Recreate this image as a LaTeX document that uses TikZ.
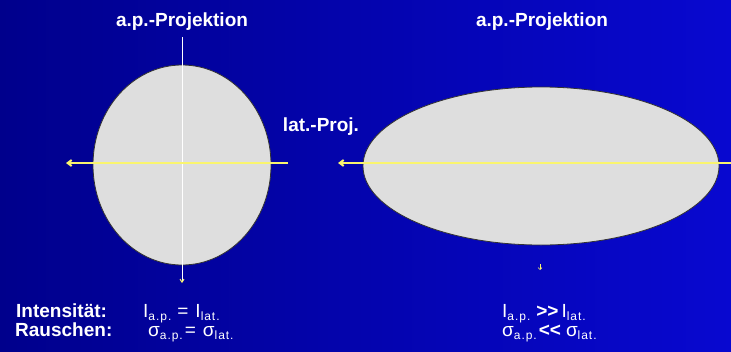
\documentclass[tikz,border=0pt]{standalone}
\usepackage{fontspec}
\setmainfont{Liberation Sans}
\usepackage{xcolor}
\definecolor{bgdark}{RGB}{0,0,140}
\definecolor{bglight}{RGB}{8,8,208}
\definecolor{bodygray}{RGB}{222,222,222}
\definecolor{projyellow}{RGB}{250,245,110}
\usetikzlibrary{arrows.meta, shapes.geometric}

\newcommand{\lowtxt}[1]{\raisebox{-3pt}{\fontsize{12}{12}\selectfont\addfontfeature{LetterSpace=8} #1}}

\begin{document}
\begin{tikzpicture}[x=1pt, y=-1pt,
  title/.style={font=\fontsize{19}{20}\selectfont\bfseries, text=white, inner sep=0pt},
  formula/.style={font=\fontsize{19}{20}\selectfont, text=white, inner sep=0pt, anchor=base west},
  body/.style={ellipse, draw=black!80, fill=bodygray, line width=0.8pt, inner sep=0pt},
  beam/.style={projyellow, line width=2pt, -{Straight Barb[length=4pt, width=6pt]}}]
  % Background
  \useasboundingbox (0,0) rectangle (731,351);
  \shade[left color=bgdark, right color=bglight] (0,0) rectangle (731,351);

  % Round body (left)
  \node[body, minimum width=178, minimum height=200] (roundbody) at (182,165) {};
  \coordinate (vtop) at (182,37);
  \coordinate (vbot) at (182,283);
  \draw[white, line width=1pt, -{Straight Barb[color=projyellow, length=3pt, width=4pt]}] (vtop) -- (vbot);
  \coordinate (lbeamin) at (288,163);
  \coordinate (lbeamout) at (66,163);
  \draw[beam] (lbeamin) -- (lbeamout);
  \node[title] (apleft) at (182,22) {a.p.-Projektion};

  % Flat body (right)
  \node[body, minimum width=356, minimum height=158] (flatbody) at (541,166) {};
  \coordinate (rbeamin) at (731,163);
  \coordinate (rbeamout) at (338,163);
  \draw[beam] (rbeamin) -- (rbeamout);
  \coordinate (rtiptop) at (540,264);
  \coordinate (rtipbot) at (540,270);
  \draw[projyellow, line width=0.6pt, -{Straight Barb[length=2pt, width=4pt]}] (rtiptop) -- (rtipbot);
  \node[title] (apright) at (542,22) {a.p.-Projektion};
  \node[title] (latproj) at (321,127) {lat.-Proj.};

  % Bottom text
  \node[title, anchor=base west] (intlabel) at (16,317) {Intensität:};
  \node[title, anchor=base west] (rauschlabel) at (15,336) {Rauschen:};
  \node[formula] (intleft) at (143,317) {I\lowtxt{a.p.}\hspace{6pt}=\hspace{7pt}I\lowtxt{lat.}};
  \node[formula] (rauschleft) at (148,336) {σ\lowtxt{a.p.}\hspace{2pt}=\hspace{7pt}σ\lowtxt{lat.}};
  \node[formula] (intright) at (502,317) {I\lowtxt{a.p.}\hspace{6pt}\textbf{>\kern0pt>}\hspace{3pt}I\lowtxt{lat.}};
  \node[formula] (rauschright) at (502,336) {σ\lowtxt{a.p.}\hspace{2pt}\textbf{<\kern0pt<}\hspace{5pt}σ\lowtxt{lat.}};
\end{tikzpicture}
\end{document}
